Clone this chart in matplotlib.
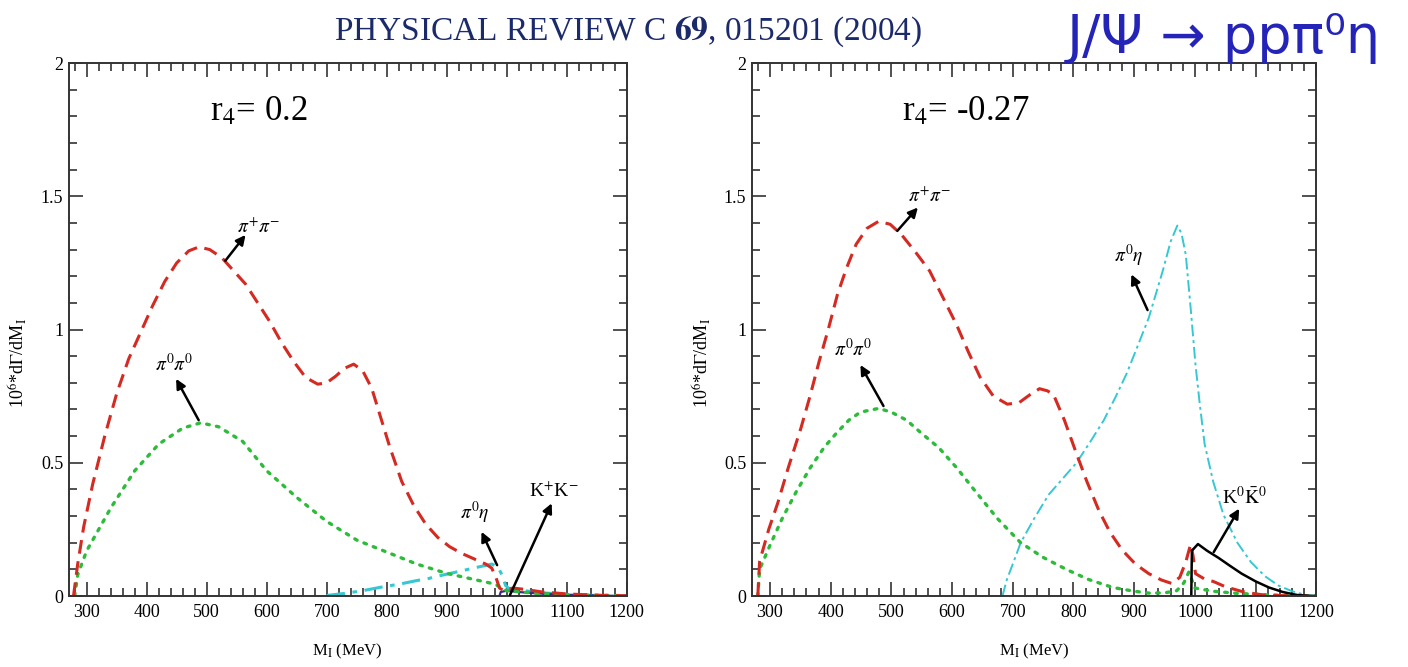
import matplotlib
matplotlib.use("Agg")
from matplotlib import pyplot as plt
from matplotlib.ticker import MultipleLocator, FuncFormatter

plt.rcParams['font.family'] = ['Liberation Serif', 'DejaVu Serif']
plt.rcParams['mathtext.fontset'] = 'stix'

# ---- left panel, r4 = 0.2 ----
l_pipi_m = [278, 285, 295, 310, 330, 350, 370, 390, 410, 430, 450, 470, 487, 505, 525, 545,
            565, 585, 605, 625, 645, 665, 685, 700, 715, 730, 745, 760, 775, 790, 805, 825,
            845, 865, 885, 905, 925, 945, 965, 975, 982, 988, 995, 1010, 1030, 1060, 1100,
            1150, 1200]
l_pipi_v = [0, 0.12, 0.26, 0.42, 0.6, 0.76, 0.89, 0.99, 1.09, 1.18, 1.25, 1.295, 1.31, 1.30,
            1.27, 1.22, 1.17, 1.1, 1.03, 0.95, 0.88, 0.82, 0.795, 0.80, 0.825, 0.855, 0.87,
            0.845, 0.78, 0.67, 0.56, 0.43, 0.34, 0.27, 0.22, 0.185, 0.16, 0.14, 0.12, 0.105,
            0.07, 0.03, 0.02, 0.03, 0.025, 0.015, 0.008, 0.003, 0.001]

l_pi0pi0_m = [280, 285, 300, 340, 380, 420, 460, 490, 520, 560, 600, 650, 700, 750, 800, 850,
              900, 950, 980, 1000, 1050, 1100, 1200]
l_pi0pi0_v = [0, 0.08, 0.17, 0.33, 0.47, 0.57, 0.63, 0.65, 0.635, 0.58, 0.47, 0.37, 0.28, 0.21,
              0.165, 0.12, 0.085, 0.06, 0.045, 0.02, 0.01, 0.005, 0.001]

l_pieta_m = [700, 730, 760, 790, 822, 850, 870, 894, 920, 945, 965, 975, 985, 992, 998, 1005,
             1030, 1060, 1100, 1150, 1200]
l_pieta_v = [0.002, 0.01, 0.02, 0.033, 0.045, 0.058, 0.066, 0.079, 0.092, 0.105, 0.115, 0.12,
             0.11, 0.08, 0.04, 0.025, 0.02, 0.012, 0.006, 0.002, 0]

l_kk_m = [988, 990, 1000, 1020, 1050, 1100, 1150, 1200]
l_kk_v = [0, 0.015, 0.02, 0.015, 0.01, 0.005, 0.002, 0]

# ---- right panel, r4 = -0.27 ----
r_pipi_m = [280, 283, 298, 313, 330, 351, 366, 381, 396, 411, 426, 442, 460, 479, 498, 517,
            540, 563, 585, 608, 627, 646, 668, 691, 710, 728, 744, 757, 767, 785, 804, 822,
            842, 860, 880, 902, 924, 945, 962, 975, 985, 993, 997, 1001, 1015, 1031, 1050,
            1076, 1100, 1114, 1150, 1200]
r_pipi_v = [0, 0.13, 0.25, 0.35, 0.48, 0.63, 0.75, 0.88, 1.0, 1.13, 1.23, 1.32, 1.38, 1.406,
            1.395, 1.355, 1.29, 1.22, 1.12, 1.015, 0.915, 0.822, 0.75, 0.72, 0.725, 0.755,
            0.778, 0.77, 0.756, 0.66, 0.54, 0.43, 0.32, 0.24, 0.173, 0.12, 0.084, 0.06, 0.047,
            0.07, 0.128, 0.195, 0.15, 0.084, 0.065, 0.054, 0.035, 0.018, 0.008, 0.004, 0.001, 0]

r_pi0pi0_m = [280, 283, 300, 320, 343, 366, 390, 411, 430, 449, 479, 500, 525, 550, 578, 608,
              638, 675, 713, 750, 789, 825, 865, 900, 924, 950, 970, 982, 990, 995, 1000,
              1030, 1070, 1120, 1200]
r_pi0pi0_v = [0, 0.1, 0.19, 0.29, 0.39, 0.48, 0.56, 0.615, 0.66, 0.69, 0.704, 0.69, 0.66,
              0.61, 0.557, 0.48, 0.394, 0.29, 0.2, 0.145, 0.099, 0.062, 0.032, 0.018, 0.011,
              0.012, 0.02, 0.05, 0.09, 0.06, 0.03, 0.018, 0.01, 0.004, 0]

r_pieta_m = [683, 690, 700, 713, 735, 759, 782, 805, 828, 850, 870, 888, 906, 924, 947, 960,
             971, 978, 985, 993, 1001, 1008, 1016, 1030, 1047, 1070, 1092, 1115, 1137, 1160,
             1182, 1200]
r_pieta_v = [0, 0.06, 0.12, 0.2, 0.29, 0.38, 0.44, 0.5, 0.58, 0.66, 0.75, 0.837, 0.94, 1.044,
             1.22, 1.33, 1.39, 1.36, 1.28, 1.08, 0.867, 0.72, 0.57, 0.43, 0.305, 0.2, 0.128,
             0.075, 0.04, 0.018, 0.004, 0]

r_kk_m = [994, 995, 1005, 1020, 1039, 1058, 1077, 1100, 1122, 1145, 1168, 1185, 1200]
r_kk_v = [0, 0.17, 0.195, 0.17, 0.143, 0.113, 0.084, 0.055, 0.032, 0.015, 0.004, 0.001, 0]

RED = '#d42a22'
GREEN = '#2dbb3a'
CYAN = '#35c8d2'

fig = plt.figure(figsize=(14.08, 6.67), dpi=100)
ax1 = fig.add_axes([0.0488, 0.1064, 0.3963, 0.7991])
ax2 = fig.add_axes([0.5339, 0.1064, 0.4010, 0.7991])


def style_axes(ax):
    ax.set_xlim(270, 1200)
    ax.set_ylim(0, 2)
    ax.xaxis.set_major_locator(MultipleLocator(100))
    ax.xaxis.set_minor_locator(MultipleLocator(20))
    ax.yaxis.set_major_locator(MultipleLocator(0.5))
    ax.yaxis.set_minor_locator(MultipleLocator(0.1))
    ax.yaxis.set_major_formatter(FuncFormatter(lambda v, p: '%g' % v))
    ax.tick_params(which='both', direction='in', top=True, right=True, width=1.2,
                   color='#333333')
    ax.tick_params(which='major', length=10)
    ax.tick_params(which='minor', length=5.5)
    ax.tick_params(axis='x', pad=6, labelsize=13)
    ax.tick_params(axis='y', pad=4, labelsize=13)
    for s in ax.spines.values():
        s.set_linewidth(1.4)
        s.set_color('#333333')
    ax.set_xlabel(r'M$_{\rm I}$ (MeV)', fontsize=12)
    ax.set_ylabel(r'10$^{6}$*d$\Gamma$/dM$_{\rm I}$', fontsize=13)
    ax.xaxis.set_label_coords(0.5, -0.085)


def arrow(ax, head, tail):
    ax.annotate('', xy=head, xytext=tail,
                arrowprops=dict(arrowstyle='-|>', color='black', lw=1.8,
                                mutation_scale=14, shrinkA=0, shrinkB=0))


style_axes(ax1)
style_axes(ax2)
ax1.yaxis.set_label_coords(-0.072, 0.437)
ax2.yaxis.set_label_coords(-0.068, 0.437)

# left
ax1.plot(l_pieta_m, l_pieta_v, color=CYAN, lw=2.2, linestyle=(0, (6, 2.5, 1.5, 2.5)))
ax1.plot(l_kk_m, l_kk_v, color='#3a2a8a', lw=1.6)
ax1.plot(l_pi0pi0_m, l_pi0pi0_v, color=GREEN, lw=2.4, linestyle=(0, (0.8, 2.2)),
         dash_capstyle='round')
ax1.plot(l_pipi_m, l_pipi_v, color=RED, lw=2.2, linestyle=(0, (4.5, 2.5)))

ax1.text(505, 1.786, r'r$_4$= 0.2', fontsize=25, ha='left', va='baseline')
ax1.text(587, 1.385, r'$\pi^{+}\pi^{-}$', fontsize=14, ha='center', va='center')
arrow(ax1, (564.7, 1.355), (531, 1.258))
ax1.text(445, 0.87, r'$\pi^{0}\pi^{0}$', fontsize=14, ha='center', va='center')
arrow(ax1, (449, 0.815), (486.6, 0.66))
ax1.text(947, 0.31, r'$\pi^{0}\eta$', fontsize=14, ha='center', va='center')
arrow(ax1, (958, 0.241), (984, 0.116))
ax1.text(1078, 0.395, r'K$^{+}$K$^{-}$', fontsize=14, ha='center', va='center')
arrow(ax1, (1075, 0.348), (1005.5, 0.004))

# right
ax2.plot(r_pieta_m, r_pieta_v, color=CYAN, lw=1.4, linestyle=(0, (6, 2, 1.5, 2)))
ax2.plot(r_pi0pi0_m, r_pi0pi0_v, color=GREEN, lw=2.4, linestyle=(0, (0.8, 2.2)),
         dash_capstyle='round')
ax2.plot(r_pipi_m, r_pipi_v, color=RED, lw=2.2, linestyle=(0, (4.5, 2.5)))
ax2.plot(r_kk_m, r_kk_v, color='black', lw=1.8)

ax2.text(518, 1.786, r'r$_4$= -0.27', fontsize=25, ha='left', va='baseline')
ax2.text(563, 1.50, r'$\pi^{+}\pi^{-}$', fontsize=14, ha='center', va='center')
arrow(ax2, (543.7, 1.458), (509.7, 1.37))
ax2.text(437, 0.925, r'$\pi^{0}\pi^{0}$', fontsize=14, ha='center', va='center')
arrow(ax2, (449, 0.867), (487, 0.713))
ax2.text(891, 1.275, r'$\pi^{0}\eta$', fontsize=14, ha='center', va='center')
arrow(ax2, (895.3, 1.207), (922, 1.073))
ax2.text(1081, 0.375, r'K$^{0}\bar{\rm K}^{0}$', fontsize=14, ha='center', va='center')
arrow(ax2, (1073, 0.328), (1031, 0.165))

# headers
fig.text(628 / 1408, 1 - 32 / 667, r'PHYSICAL REVIEW C $\mathbf{69}$, 015201 (2004)',
         fontsize=24, color='#1b2a6b', ha='center', va='center')
fig.text(1224 / 1408, 1 - 38 / 667, 'J/Ψ → ppπ⁰η', family=['DejaVu Sans'],
         fontsize=39, color='#2424b8', ha='center', va='center')

fig.savefig('out.png', dpi=100)
